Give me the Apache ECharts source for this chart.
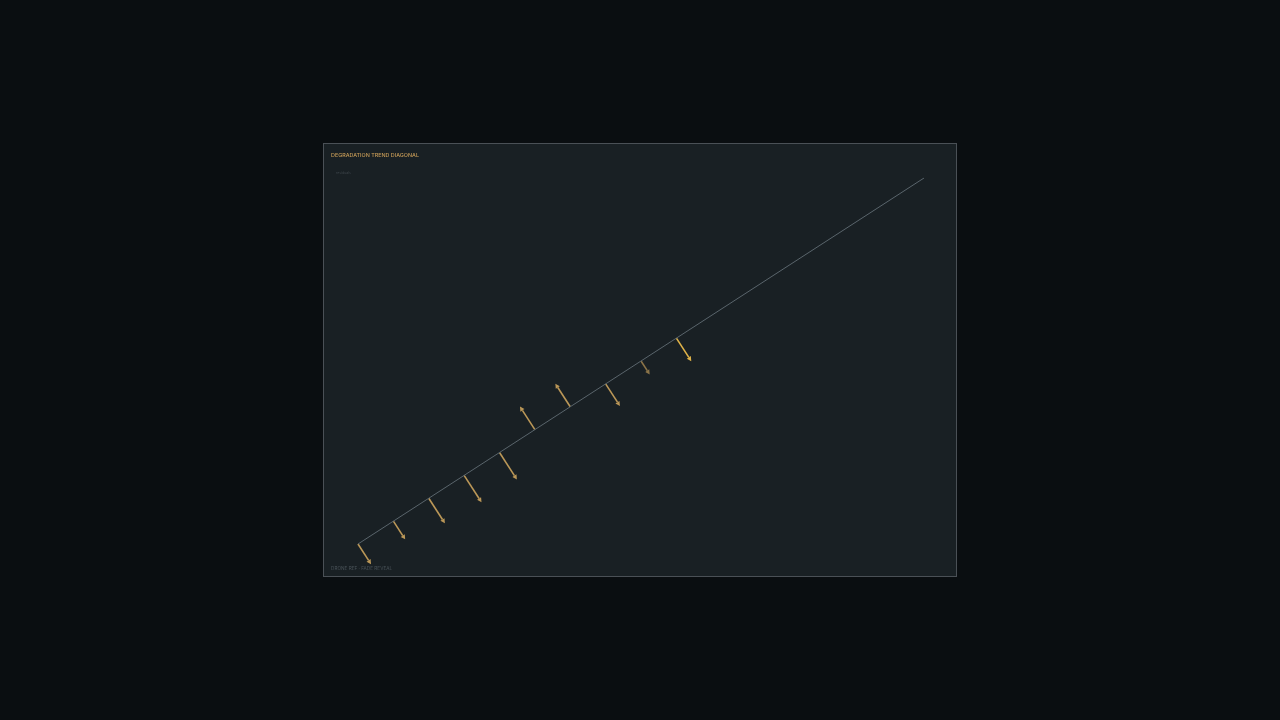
<!DOCTYPE html>
<html>
<head>
    <meta charset="utf-8">
    <title>Degradation trend diagonal</title>
    <style>
        html, body { margin: 0; padding: 0; background: #0a0e11; width: 1280px; height: 720px; overflow: hidden; }
        #panel {
            position: absolute; left: 323px; top: 143px;
            width: 632px; height: 432px;
            background: #192024; border: 1px solid #4a5056;
        }
        #chart { width: 632px; height: 432px; }
    </style>
</head>
<body>
    <div id="panel"><div id="chart"></div></div>
    <script src="https://cdn.jsdelivr.net/npm/echarts@6/dist/echarts.min.js"></script>
    <script>
        // trend line end points (step, degradation %)
        var trendX = [0, 16];
        var trendY = [2, 34];

        // observed steps, trend value at each step, residual (actual - trend)
        var obsX = [0, 1, 2, 3, 4, 5, 6, 7, 8, 9];
        var obsTrend = [2, 4, 6, 8, 10, 12, 14, 16, 18, 20];
        var obsResid = [-2.1, -1.9, -2.6, -2.8, -2.8, 2.4, 2.4, -2.3, -1.4, -2.4];

        var titleText = 'DEGRADATION TREND DIAGONAL';
        var subText = 'residuals';
        var footText = 'DRONE REF \u00B7 FADE REVEAL';

        var myChart = echarts.init(document.getElementById('chart'));

        var arrowData = [];
        for (var i = 0; i < obsX.length; i++) {
            arrowData.push([obsX[i], obsTrend[i], obsResid[i]]);
        }

        function renderArrow(params, api) {
            var a = api.coord([trendX[0], trendY[0]]);
            var b = api.coord([trendX[1], trendY[1]]);
            var dx = b[0] - a[0], dy = b[1] - a[1];
            var len = Math.sqrt(dx * dx + dy * dy);
            // unit normal pointing "below" the trend line
            var nx = -dy / len, ny = dx / len;
            if (ny < 0) { nx = -nx; ny = -ny; }

            var p0 = api.coord([api.value(0), api.value(1)]);
            var r = api.value(2);
            var px = api.size([0, Math.abs(r)])[1];
            var sgn = r < 0 ? 1 : -1;
            var ux = nx * sgn, uy = ny * sgn;
            var tip = [p0[0] + ux * px, p0[1] + uy * px];

            var last = params.dataIndex === obsX.length - 1;
            var color = last ? '#f0bf4c' : '#c9a25c';
            var op = Math.abs(r) < 1.6 ? 0.65 : 0.92;

            var hs = 4.5, hw = 2.4;
            var base = [tip[0] - ux * hs, tip[1] - uy * hs];
            var head = [
                tip,
                [base[0] - uy * hw, base[1] + ux * hw],
                [base[0] + uy * hw, base[1] - ux * hw]
            ];
            return {
                type: 'group',
                children: [
                    {
                        type: 'line',
                        shape: { x1: p0[0], y1: p0[1], x2: base[0], y2: base[1] },
                        style: { stroke: color, lineWidth: 1.6, opacity: op }
                    },
                    {
                        type: 'polygon',
                        shape: { points: head },
                        style: { fill: color, opacity: op }
                    }
                ]
            };
        }

        var option = {
            backgroundColor: 'transparent',
            animation: false,
            title: {
                text: titleText,
                left: 7, top: 9, padding: 0,
                textStyle: { color: '#c99d58', fontSize: 5.4, fontWeight: 500, fontFamily: 'Inter' }
            },
            graphic: [
                {
                    type: 'text', left: 12, top: 27,
                    style: { text: subText, fill: '#3e464c', fontSize: 3.5, fontFamily: 'Inter' }
                },
                {
                    type: 'text', left: 7, top: 422,
                    style: { text: footText, fill: '#4a5359', fontSize: 4.7, fontFamily: 'Inter' }
                }
            ],
            grid: { left: 34, right: 32, top: 34, bottom: 32 },
            xAxis: {
                type: 'value', min: trendX[0], max: trendX[1],
                show: false
            },
            yAxis: {
                type: 'value', min: trendY[0], max: trendY[1],
                show: false
            },
            series: [
                {
                    type: 'line',
                    data: [[trendX[0], trendY[0]], [trendX[1], trendY[1]]],
                    symbol: 'none',
                    lineStyle: { color: '#5a656c', width: 1 },
                    silent: true
                },
                {
                    type: 'custom',
                    renderItem: renderArrow,
                    data: arrowData,
                    encode: { x: 0, y: 1 },
                    z: 3
                }
            ]
        };
        myChart.setOption(option);
    </script>
</body>
</html>
